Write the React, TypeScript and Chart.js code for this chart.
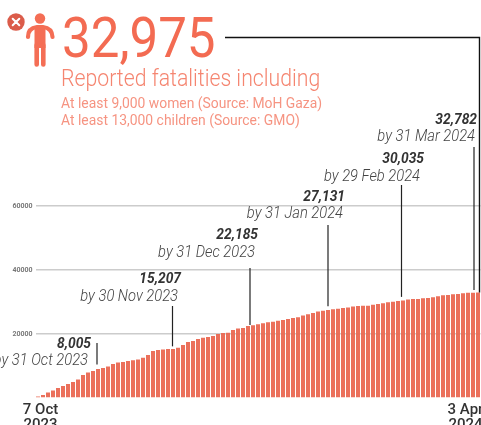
import React, { useEffect, useRef } from "react";
import { Chart, registerables } from "chart.js";

Chart.register(...registerables);

const SANS = "Roboto, sans-serif";

const fatalities = [
  470, 940, 1720, 2340, 3130, 3750, 4380, 5000, 5780, 7190,
  7970, 8440, 9060, 9380, 9840, 10630, 11090, 11250, 11560, 11780,
  12030, 12590, 13440, 14690, 15000, 15160, 15310, 15310, 15720, 16560,
  17500, 17810, 18440, 18840, 19060, 19380, 20000, 20310, 20410, 21250,
  21720, 21880, 22500, 22750, 23030, 23380, 23660, 23840, 24160, 24380,
  24690, 25000, 25250, 25780, 26190, 26560, 27030, 27250, 27500, 27720,
  27880, 28130, 28280, 28590, 28750, 28840, 28840, 29160, 29380, 29590,
  29910, 30090, 30310, 30470, 30780, 30940, 30940, 31160, 31250, 31470,
  31780, 32090, 32190, 32440, 32500, 32750, 32880, 32910, 32975,
];

const categories: (string | string[])[] = fatalities.map(() => "");
categories[0] = ["7 Oct", "2023"];
categories[85] = ["3 Apr", "2024"];

const milestoneValues = ["8,005", "15,207", "22,185", "27,131", "30,035", "32,782"];
const milestoneDates = [
  "by 31 Oct 2023",
  "by 30 Nov 2023",
  "by 31 Dec 2023",
  "by 31 Jan 2024",
  "by 29 Feb 2024",
  "by 31 Mar 2024",
];
const milestoneIndex = [11.8, 26.9, 42.4, 58, 72.7, 87.2];
const milestoneAmount = [8005, 15207, 22185, 27131, 30035, 32782];

const headline = "32,975";
const headlineSub = "Reported fatalities including";
const headlineNotes = [
  "At least 9,000 women (Source: MoH Gaza)",
  "At least 13,000 children (Source: GMO)",
];

// layout of the milestone labels: [value right edge, value baseline, date right edge, date baseline, line top, gap above value]
const milestoneLayout = [
  [91, 348, 88, 365, 343, 8],
  [181, 283, 178, 300.5, 306, 3],
  [258, 239, 255, 257, 268, 2],
  [345, 201, 343, 218, 225, 5],
  [424, 162.5, 420, 180.5, 185, 5],
  [477, 124, 475, 141, 147, 3],
];

function fitText(
  ctx: CanvasRenderingContext2D,
  text: string,
  x: number,
  y: number,
  font: string,
  color: string,
  squeeze: number,
  right = false
) {
  ctx.save();
  ctx.font = font;
  ctx.fillStyle = color;
  ctx.textBaseline = "alphabetic";
  ctx.textAlign = right ? "right" : "left";
  ctx.translate(x, y);
  ctx.scale(squeeze, 1);
  ctx.fillText(text, 0, 0);
  ctx.restore();
}

const overlay = {
  id: "overlay",
  afterDraw(chart: any) {
    const { ctx, scales } = chart;
    const xs = scales.x;
    const ys = scales.y;

    // person icon
    const c1 = "#F46E55";
    ctx.save();
    ctx.fillStyle = c1;
    ctx.beginPath();
    ctx.arc(40, 18.5, 5.2, 0, Math.PI * 2);
    ctx.fill();
    ctx.strokeStyle = c1;
    ctx.lineWidth = 4.2;
    ctx.lineCap = "round";
    ctx.beginPath();
    ctx.moveTo(28, 37);
    ctx.quadraticCurveTo(28, 28, 37, 27);
    ctx.lineTo(43, 27);
    ctx.quadraticCurveTo(52, 28, 52.5, 37);
    ctx.stroke();
    ctx.fillRect(34.5, 26, 11, 22);
    ctx.lineWidth = 4.6;
    ctx.beginPath();
    ctx.moveTo(36.7, 45);
    ctx.lineTo(36.7, 64.5);
    ctx.moveTo(43.3, 45);
    ctx.lineTo(43.3, 64.5);
    ctx.stroke();
    // badge
    ctx.fillStyle = "#DB5C4A";
    ctx.beginPath();
    ctx.arc(16, 22, 8.7, 0, Math.PI * 2);
    ctx.fill();
    ctx.strokeStyle = "#fff";
    ctx.lineWidth = 2;
    ctx.beginPath();
    ctx.moveTo(12.7, 18.7);
    ctx.lineTo(19.3, 25.3);
    ctx.moveTo(19.3, 18.7);
    ctx.lineTo(12.7, 25.3);
    ctx.stroke();
    ctx.restore();

    // header
    fitText(ctx, headline, 62, 57, `400 56px ${SANS}`, "#F36B52", 0.912);
    fitText(ctx, headlineSub, 61, 86, `300 24px ${SANS}`, "#F58570", 0.885);
    fitText(ctx, headlineNotes[0], 61, 108, `400 14.5px ${SANS}`, "#F69482", 0.958);
    fitText(ctx, headlineNotes[1], 61, 125, `400 14.5px ${SANS}`, "#F69482", 0.958);

    // connector from headline to the last bar
    const lastX = xs.getPixelForValue(fatalities.length - 1) + 1.5;
    ctx.save();
    ctx.strokeStyle = "#111";
    ctx.lineWidth = 1.4;
    ctx.beginPath();
    ctx.moveTo(225, 37.5);
    ctx.lineTo(lastX, 37.5);
    ctx.lineTo(lastX, ys.getPixelForValue(fatalities[fatalities.length - 1]));
    ctx.stroke();
    ctx.restore();

    // milestones
    milestoneValues.forEach((v, i) => {
      const [vx, vy, dx, dy, top, gap] = milestoneLayout[i];
      fitText(ctx, v, vx, vy, `italic 700 15px ${SANS}`, "#333", 0.92, true);
      fitText(ctx, milestoneDates[i], dx, dy, `italic 300 16px ${SANS}`, "#444", 0.92, true);
      const x = xs.getPixelForValue(milestoneIndex[i]);
      ctx.save();
      ctx.strokeStyle = "#222";
      ctx.lineWidth = 1.2;
      ctx.beginPath();
      ctx.moveTo(x, top);
      ctx.lineTo(x, ys.getPixelForValue(milestoneAmount[i]) - gap);
      ctx.stroke();
      ctx.restore();
    });
  },
};

export default function App() {
  const ref = useRef<HTMLCanvasElement>(null);
  useEffect(() => {
    document.body.style.margin = "0";
    document.body.style.overflow = "hidden";
    const chart = new Chart(ref.current!, {
      type: "bar",
      data: {
        labels: categories as any,
        datasets: [
          {
            data: fatalities,
            backgroundColor: "rgba(234,104,82,0.95)",
            barPercentage: 0.8,
            categoryPercentage: 1,
          },
        ],
      },
      options: {
        responsive: false,
        animation: false,
        layout: { padding: { top: 206, left: 0, right: 0.5, bottom: 0 } },
        plugins: { legend: { display: false }, tooltip: { enabled: false } },
        scales: {
          x: {
            offset: true,
            grid: { display: false },
            border: { display: false },
            afterFit: (s: any) => {
              s.height = 27;
              s.paddingLeft = 0;
              s.paddingRight = 0;
            },
            ticks: {
              autoSkip: false,
              maxRotation: 0,
              minRotation: 0,
              padding: -3,
              labelOffset: 2.5,
              color: "#333",
              font: { family: SANS, size: 15, weight: "500", lineHeight: 1.0 },
            },
          },
          y: {
            min: 0,
            max: 60000,
            afterFit: (s: any) => {
              s.width = 35.5;
            },
            border: { display: false },
            grid: {
              color: (c: any) => (c.tick.value === 0 ? "rgba(0,0,0,0)" : "#CCCCCC"),
              lineWidth: 1.6,
              drawTicks: false,
            },
            ticks: {
              stepSize: 20000,
              padding: 3,
              color: "#777",
              font: { family: SANS, size: 7, weight: "700" },
              callback: (v: any) => (v === 0 ? "" : String(v)),
            },
          },
        },
      },
      plugins: [overlay],
    } as any);
    return () => chart.destroy();
  }, []);
  return <canvas ref={ref} width={481} height={425} style={{ display: "block" }} />;
}
